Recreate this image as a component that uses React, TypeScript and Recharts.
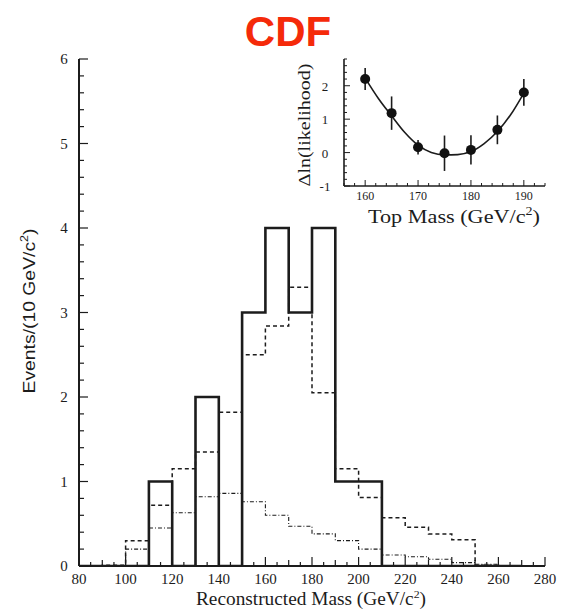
import React from 'react';
import { ComposedChart, Line, Scatter, XAxis, YAxis, ErrorBar, Label } from 'recharts';

// histogram: 10 GeV bins, left edges 80..260, closing edge 270
const binEdges = [80, 90, 100, 110, 120, 130, 140, 150, 160, 170, 180, 190, 200, 210, 220, 230, 240, 250, 260, 270];
const observedCounts = [0, 0, 0, 1, 0, 2, 0, 3, 4, 3, 4, 1, 1, 0, 0, 0, 0, 0, 0];
const expectedTotal = [0, 0.01, 0.3, 0.72, 1.15, 1.35, 1.82, 2.5, 2.84, 3.3, 2.05, 1.15, 0.81, 0.57, 0.46, 0.38, 0.31, 0.01, 0];
const expectedBackground = [0, 0, 0.2, 0.45, 0.63, 0.82, 0.86, 0.76, 0.6, 0.47, 0.38, 0.3, 0.2, 0.13, 0.11, 0.08, 0.04, 0.02, 0];

// inset: likelihood scan
const topMass = [160, 165, 170, 175, 180, 185, 190];
const deltaLnL = [2.2, 1.18, 0.16, -0.02, 0.08, 0.68, 1.8];
const deltaLnLErr = [0.33, 0.5, 0.22, 0.53, 0.44, 0.43, 0.4];

const fitMass = [160, 162.5, 165, 167.5, 170, 172.5, 175, 177.5, 180, 182.5, 185, 187.5, 190];
const fitDelta = [2.23, 1.62, 1.1, 0.6, 0.22, 0.0, -0.07, -0.06, 0.03, 0.27, 0.63, 1.13, 1.78];

const mainXTicks = Array.from({ length: 41 }, (_, i) => 80 + i * 5);
const mainYTicks = Array.from({ length: 31 }, (_, i) => i / 5);
const insetXTicks = Array.from({ length: 20 }, (_, i) => 156 + i * 2);
const insetYTicks = Array.from({ length: 20 }, (_, i) => -1 + i / 5);

const INK = '#1c1c1c';
const SERIF = '"Liberation Serif", "DejaVu Serif", serif';
const SANS = '"Liberation Sans", Arial, sans-serif';

const W = 561;
const H = 612;
const PLOT_LEFT = 79;
const PLOT_TOP = 59;
const X_AXIS_H = 46;
const PLOT_BOTTOM = H - X_AXIS_H;

// inset box placement (page coords)
const IN_LEFT = 290;
const IN_TOP = 52;
const IN_W = 265;
const IN_H = 180;
const IN_PLOT_LEFT = 54;
const IN_PLOT_TOP = 7;
const IN_X_AXIS_H = 46;
const IN_PLOT_BOTTOM = IN_H - IN_X_AXIS_H;

const histRows = binEdges.map((edge, i) => {
  const k = Math.min(i, observedCounts.length - 1);
  return { m: edge, obs: observedCounts[k], tot: expectedTotal[k], bkg: expectedBackground[k] };
});
const scanRows = topMass.map((m, i) => ({ m, v: deltaLnL[i], err: deltaLnLErr[i] }));
const fitRows = fitMass.map((m, i) => ({ m, v: fitDelta[i] }));

const MainBottomTick = (props: any) => {
  const { x, payload } = props;
  const v = payload.value;
  const len = v % 20 === 0 ? 9 : v % 10 === 0 ? 6 : 4;
  return (
    <g>
      <line x1={x} x2={x} y1={PLOT_BOTTOM} y2={PLOT_BOTTOM - len} stroke={INK} strokeWidth={1.2} />
      {v % 20 === 0 && (
        <text x={x} y={PLOT_BOTTOM + 18} textAnchor="middle" fontFamily={SERIF} fontSize={15} fill={INK}>
          {v}
        </text>
      )}
    </g>
  );
};

const MainLeftTick = (props: any) => {
  const { y, payload } = props;
  const k = Math.round(payload.value * 5);
  const major = k % 5 === 0;
  return (
    <g>
      <line x1={PLOT_LEFT} x2={PLOT_LEFT + (major ? 9 : 5)} y1={y} y2={y} stroke={INK} strokeWidth={1.2} />
      {major && (
        <text x={64} y={y + 5} textAnchor="middle" fontFamily={SERIF} fontSize={15} fill={INK}>
          {k / 5}
        </text>
      )}
    </g>
  );
};

const InsetBottomTick = (props: any) => {
  const { x, payload } = props;
  const v = payload.value;
  const major = v % 10 === 0;
  return (
    <g>
      <line x1={x} x2={x} y1={IN_PLOT_BOTTOM} y2={IN_PLOT_BOTTOM - (major ? 6 : 3)} stroke={INK} strokeWidth={1} />
      {major && (
        <text x={x} y={IN_PLOT_BOTTOM + 14} textAnchor="middle" fontFamily={SERIF} fontSize={12} fill={INK}>
          {v}
        </text>
      )}
    </g>
  );
};

const InsetLeftTick = (props: any) => {
  const { y, payload } = props;
  const k = Math.round(payload.value * 5);
  const major = k % 5 === 0;
  return (
    <g>
      <line x1={IN_PLOT_LEFT} x2={IN_PLOT_LEFT + (major ? 6 : 3)} y1={y} y2={y} stroke={INK} strokeWidth={1} />
      {major && (
        <text x={35} y={y + 5} textAnchor="middle" fontFamily={SERIF} fontSize={13} fill={INK}>
          {k / 5}
        </text>
      )}
    </g>
  );
};

const Dot = (props: any) => <circle cx={props.cx} cy={props.cy} r={5} fill="#111" />;

export default function App() {
  return (
    <div style={{ position: 'absolute', left: 0, top: 0, width: W, height: H, background: '#fff' }}>
      <div
        style={{
          position: 'absolute', left: 188, top: 11, width: 200, textAlign: 'center',
          fontFamily: SANS, fontWeight: 700, fontSize: 42, lineHeight: '42px', color: '#f52a0a',
        }}
      >
        CDF
      </div>

      <div style={{ position: 'absolute', left: 0, top: 0 }}>
        <ComposedChart width={W} height={H} data={histRows} margin={{ top: PLOT_TOP, right: 16, bottom: 0, left: 0 }}>
          <XAxis
            xAxisId="b" dataKey="m" type="number" domain={[80, 280]} allowDataOverflow
            ticks={mainXTicks} interval={0} height={X_AXIS_H}
            tick={<MainBottomTick />} tickLine={false} axisLine={{ stroke: INK, strokeWidth: 2 }}
          >
            <Label
              content={() => (
                <text x={311} y={605} textAnchor="middle" fontFamily={SERIF} fontSize={18} fill={INK}
                  textLength={230} lengthAdjust="spacingAndGlyphs">
                  Reconstructed Mass (GeV/c<tspan dy={-7} fontSize={11}>2</tspan><tspan dy={7}>)</tspan>
                </text>
              )}
            />
          </XAxis>
          <XAxis
            xAxisId="t" orientation="top" type="number" domain={[80, 280]} allowDataOverflow
            ticks={[]} height={0} tick={false} tickLine={false} axisLine={{ stroke: INK, strokeWidth: 2 }}
          />
          <YAxis
            yAxisId="l" type="number" domain={[0, 6]} allowDataOverflow ticks={mainYTicks} interval={0}
            width={PLOT_LEFT} tick={<MainLeftTick />} tickLine={false} axisLine={{ stroke: INK, strokeWidth: 2 }}
          >
            <Label
              content={() => (
                <text x={0} y={0} transform="translate(35 311) rotate(-90)" textAnchor="middle"
                  fontFamily={SANS} fontSize={17} fill={INK} textLength={165} lengthAdjust="spacingAndGlyphs">
                  Events/(10 GeV/c<tspan dy={-7} fontSize={11}>2</tspan><tspan dy={7}>)</tspan>
                </text>
              )}
            />
          </YAxis>
          <YAxis
            yAxisId="r" orientation="right" type="number" domain={[0, 6]} allowDataOverflow
            ticks={[]} width={0} tick={false} tickLine={false} axisLine={{ stroke: INK, strokeWidth: 2 }}
          />
          <Line xAxisId="b" yAxisId="l" type="stepAfter" dataKey="bkg" stroke={INK} strokeWidth={1.1}
            strokeDasharray="4 2 1 2" dot={false} isAnimationActive={false} />
          <Line xAxisId="b" yAxisId="l" type="stepAfter" dataKey="tot" stroke={INK} strokeWidth={1.5}
            strokeDasharray="4 3" dot={false} isAnimationActive={false} />
          <Line xAxisId="b" yAxisId="l" type="stepAfter" dataKey="obs" stroke={INK} strokeWidth={2.6}
            dot={false} isAnimationActive={false} />
        </ComposedChart>
      </div>

      <div style={{ position: 'absolute', left: IN_LEFT, top: IN_TOP }}>
        <ComposedChart width={IN_W} height={IN_H} margin={{ top: IN_PLOT_TOP, right: 10, bottom: 0, left: 0 }}>
          <XAxis
            xAxisId="b" dataKey="m" type="number" domain={[156, 194]} allowDataOverflow
            ticks={insetXTicks} interval={0} height={IN_X_AXIS_H}
            tick={<InsetBottomTick />} tickLine={false} axisLine={{ stroke: INK, strokeWidth: 1.6 }}
          >
            <Label
              content={() => (
                <text x={164} y={171} textAnchor="middle" fontFamily={SERIF} fontSize={19} fill={INK}
                  textLength={172} lengthAdjust="spacingAndGlyphs">
                  Top Mass (GeV/c<tspan dy={-8} fontSize={12}>2</tspan><tspan dy={8}>)</tspan>
                </text>
              )}
            />
          </XAxis>
          <XAxis
            xAxisId="t" orientation="top" type="number" domain={[156, 194]} allowDataOverflow
            ticks={[]} height={0} tick={false} tickLine={false} axisLine={{ stroke: INK, strokeWidth: 1.6 }}
          />
          <YAxis
            yAxisId="l" type="number" domain={[-1, 2.8]} allowDataOverflow ticks={insetYTicks} interval={0}
            width={IN_PLOT_LEFT} tick={<InsetLeftTick />} tickLine={false} axisLine={{ stroke: INK, strokeWidth: 1.6 }}
          >
            <Label
              content={() => (
                <text x={0} y={0} transform="translate(20 73) rotate(-90)" textAnchor="middle"
                  fontFamily={SERIF} fontSize={16} fill={INK} textLength={123} lengthAdjust="spacingAndGlyphs">
                  Δln(likelihood)
                </text>
              )}
            />
          </YAxis>
          <YAxis
            yAxisId="r" orientation="right" type="number" domain={[-1, 2.8]} allowDataOverflow
            ticks={[]} width={0} tick={false} tickLine={false} axisLine={{ stroke: INK, strokeWidth: 1.6 }}
          />
          <Line xAxisId="b" yAxisId="l" data={fitRows} type="monotone" dataKey="v" stroke={INK}
            strokeWidth={1.6} dot={false} isAnimationActive={false} />
          <Scatter xAxisId="b" yAxisId="l" data={scanRows} dataKey="v" shape={<Dot />} isAnimationActive={false}>
            <ErrorBar dataKey="err" direction="y" width={0} stroke={INK} strokeWidth={1.6} />
          </Scatter>
        </ComposedChart>
      </div>
    </div>
  );
}
